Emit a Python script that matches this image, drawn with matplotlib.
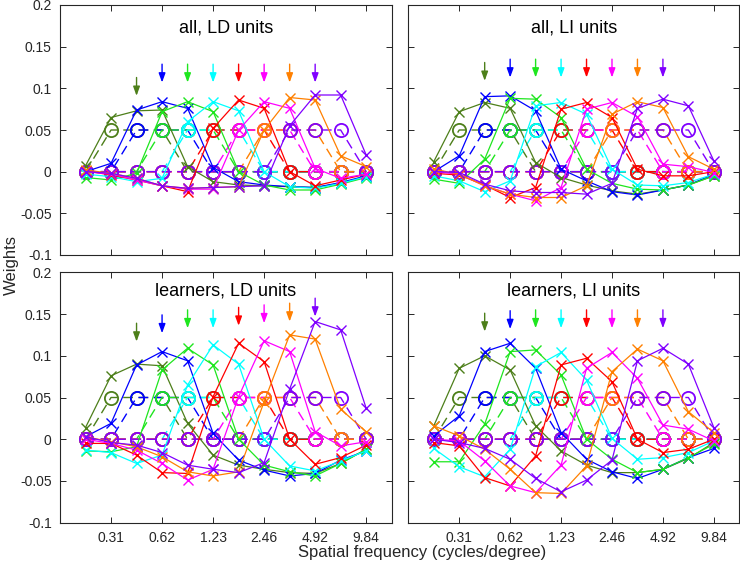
import matplotlib
matplotlib.use("Agg")
import matplotlib.pyplot as plt
import numpy as np

plt.rcParams['font.family'] = ['Liberation Sans', 'DejaVu Sans']

# ---------------- data ----------------
x_idx = list(range(12))
tick_pos = [1, 3, 5, 7, 9, 11]
tick_labels = ['0.31', '0.62', '1.23', '2.46', '4.92', '9.84']
ytick_vals = [-0.1, -0.05, 0, 0.05, 0.1, 0.15, 0.2]
ytick_labels = ['-0.1', '-0.05', '0', '0.05', '0.1', '0.15', '0.2']

unit_colors = ['#4d7f1a', '#0000ff', '#1ee61e', '#00ffff', '#ff0000', '#ff00ff', '#ff8000', '#8000ff']
arrow_pos = [2, 3, 4, 5, 6, 7, 8, 9]

# target profiles (dashed, circles)
target_0 = [0, 0.05, 0.05, 0.05, 0, 0, 0, 0, 0, 0, 0, 0]
target_1 = [0, 0, 0.05, 0.05, 0.05, 0, 0, 0, 0, 0, 0, 0]
target_2 = [0, 0, 0, 0.05, 0.05, 0.05, 0, 0, 0, 0, 0, 0]
target_3 = [0, 0, 0, 0, 0.05, 0.05, 0.05, 0, 0, 0, 0, 0]
target_4 = [0, 0, 0, 0, 0, 0.05, 0.05, 0.05, 0, 0, 0, 0]
target_5 = [0, 0, 0, 0, 0, 0, 0.05, 0.05, 0.05, 0, 0, 0]
target_6 = [0, 0, 0, 0, 0, 0, 0, 0.05, 0.05, 0.05, 0, 0]
target_7 = [0, 0, 0, 0, 0, 0, 0, 0, 0.05, 0.05, 0.05, 0]
targets = [target_0, target_1, target_2, target_3, target_4, target_5, target_6, target_7]

# panel: all, LD units
all_ld = [
    [0.007, 0.065, 0.073, 0.074, 0.006, -0.012, -0.016, -0.017, -0.018, -0.019, -0.014, -0.006],
    [0.0, 0.010, 0.074, 0.084, 0.076, 0.005, -0.012, -0.016, -0.018, -0.019, -0.013, -0.005],
    [-0.007, -0.010, -0.002, 0.072, 0.084, 0.072, 0.0, -0.016, -0.022, -0.022, -0.015, -0.007],
    [-0.003, -0.006, -0.012, -0.008, 0.060, 0.084, 0.073, 0.0, -0.018, -0.020, -0.014, -0.006],
    [0.001, -0.004, -0.010, -0.017, -0.024, 0.052, 0.086, 0.076, 0.0, -0.017, -0.010, -0.003],
    [0.0, -0.003, -0.010, -0.017, -0.021, -0.021, 0.050, 0.084, 0.076, 0.004, -0.008, -0.003],
    [0.002, -0.002, -0.008, -0.017, -0.020, -0.019, -0.018, 0.050, 0.089, 0.086, 0.019, 0.006],
    [0.0, -0.002, -0.008, -0.017, -0.020, -0.019, -0.018, -0.017, 0.055, 0.092, 0.092, 0.020],
]
# panel: all, LI units
all_li = [
    [0.012, 0.072, 0.083, 0.076, 0.011, -0.007, -0.016, -0.023, -0.027, -0.022, -0.016, -0.005],
    [0.0, 0.019, 0.090, 0.091, 0.073, 0.003, -0.011, -0.024, -0.028, -0.022, -0.016, -0.003],
    [-0.009, -0.014, 0.015, 0.088, 0.087, 0.065, 0.003, -0.014, -0.021, -0.022, -0.016, -0.005],
    [-0.005, -0.011, -0.024, -0.011, 0.079, 0.083, 0.069, 0.003, -0.016, -0.017, -0.013, -0.003],
    [-0.002, -0.004, -0.016, -0.031, -0.019, 0.075, 0.083, 0.065, 0.003, -0.005, -0.005, 0.0],
    [0.0, -0.003, -0.017, -0.027, -0.035, -0.019, 0.075, 0.083, 0.066, 0.009, 0.006, -0.001],
    [0.003, -0.003, -0.017, -0.027, -0.031, -0.031, -0.017, 0.069, 0.084, 0.077, 0.018, 0.003],
    [0.0, -0.001, -0.015, -0.023, -0.025, -0.025, -0.027, -0.014, 0.076, 0.087, 0.079, 0.013],
]
# panel: learners, LD units
learn_ld = [
    [0.014, 0.076, 0.090, 0.088, 0.019, -0.019, -0.031, -0.036, -0.040, -0.041, -0.029, -0.012],
    [0.003, 0.019, 0.089, 0.105, 0.094, 0.007, -0.025, -0.037, -0.044, -0.041, -0.025, -0.014],
    [-0.014, -0.015, -0.009, 0.083, 0.109, 0.089, 0.0, -0.031, -0.039, -0.044, -0.029, -0.012],
    [-0.013, -0.016, -0.029, -0.019, 0.065, 0.113, 0.090, 0.0, -0.032, -0.038, -0.026, -0.014],
    [-0.005, -0.005, -0.019, -0.040, -0.041, 0.051, 0.115, 0.093, 0.0, -0.030, -0.022, -0.007],
    [0.0, -0.005, -0.013, -0.029, -0.049, -0.036, 0.051, 0.118, 0.105, 0.009, -0.008, -0.003],
    [0.003, -0.003, -0.009, -0.021, -0.039, -0.044, -0.039, 0.045, 0.125, 0.120, 0.036, 0.009],
    [0.003, -0.004, -0.007, -0.016, -0.031, -0.036, -0.040, -0.028, 0.060, 0.141, 0.131, 0.037],
]
# panel: learners, LI units
learn_li = [
    [0.016, 0.085, 0.100, 0.083, 0.016, -0.014, -0.031, -0.040, -0.040, -0.036, -0.023, -0.004],
    [0.004, 0.028, 0.105, 0.115, 0.085, 0.008, -0.024, -0.039, -0.047, -0.036, -0.022, -0.011],
    [-0.027, -0.027, 0.018, 0.105, 0.107, 0.077, 0.0, -0.024, -0.040, -0.036, -0.022, -0.006],
    [-0.011, -0.033, -0.045, -0.012, 0.087, 0.104, 0.071, 0.001, -0.024, -0.022, -0.016, -0.002],
    [-0.004, -0.008, -0.046, -0.056, -0.020, 0.089, 0.097, 0.069, 0.0, -0.016, -0.012, 0.0],
    [0.0, -0.002, -0.026, -0.056, -0.064, -0.031, 0.085, 0.104, 0.073, 0.017, 0.012, -0.002],
    [0.016, 0.004, -0.012, -0.036, -0.064, -0.065, -0.032, 0.081, 0.108, 0.094, 0.033, 0.008],
    [0.0, -0.004, -0.011, -0.024, -0.047, -0.063, -0.049, -0.025, 0.094, 0.109, 0.090, 0.014],
]

arrow_tip_all_ld = [0.091, 0.107, 0.107, 0.107, 0.107, 0.107, 0.107, 0.107]
arrow_tip_all_li = [0.109, 0.113, 0.113, 0.113, 0.113, 0.113, 0.113, 0.113]
arrow_tip_learn_ld = [0.117, 0.127, 0.133, 0.133, 0.136, 0.139, 0.141, 0.147]
arrow_tip_learn_li = [0.129, 0.132, 0.133, 0.133, 0.133, 0.133, 0.133, 0.133]

titles = ['all, LD units', 'all, LI units', 'learners, LD units', 'learners, LI units']

# ---------------- figure ----------------
fig = plt.figure(figsize=(7.4, 5.72), dpi=100)
W, H = 740.0, 572.0
def rect(x0, y0, x1, y1):
    return [x0 / W, 1 - y1 / H, (x1 - x0) / W, (y1 - y0) / H]

axes_rects = [rect(60, 5, 391.7, 255), rect(408.3, 5, 739.3, 255),
              rect(60, 272.3, 391.7, 522.7), rect(408.3, 272.3, 739.3, 522.7)]
panels = [all_ld, all_li, learn_ld, learn_li]
tips = [arrow_tip_all_ld, arrow_tip_all_li, arrow_tip_learn_ld, arrow_tip_learn_li]
title_y = [0.908, 0.908, 0.927, 0.927]
axcol = '#262626'

for p in range(4):
    ax = fig.add_axes(axes_rects[p])
    data = panels[p]
    for k in range(8):
        c = unit_colors[k]
        ax.plot(x_idx, targets[k], color=c, lw=1.0, dashes=(7, 4), marker='o',
                ms=9.5, mfc='none', mec=c, mew=1.3, zorder=2)
        ax.plot(x_idx, data[k], color=c, lw=0.9, marker='x', ms=6.5, mew=1.0, zorder=3)
        ax.annotate('', xy=(arrow_pos[k], tips[p][k]), xytext=(arrow_pos[k], tips[p][k] + 0.022),
                    arrowprops=dict(arrowstyle='-|>,head_length=0.55,head_width=0.2',
                                    color=c, lw=1.0, shrinkA=0, shrinkB=0), zorder=4)
    ax.set_xlim(-1, 12)
    ax.set_ylim(-0.1, 0.2)
    ax.set_xticks(tick_pos)
    ax.set_yticks(ytick_vals)
    if p >= 2:
        ax.set_xticklabels(tick_labels)
    else:
        ax.set_xticklabels([])
    if p % 2 == 0:
        ax.set_yticklabels(ytick_labels)
    else:
        ax.set_yticklabels([])
    ax.tick_params(direction='in', length=4, width=0.7, top=True, right=True,
                   labelsize=10, colors=axcol, pad=6)
    for s in ax.spines.values():
        s.set_color(axcol)
        s.set_linewidth(0.8)
    ax.text(0.5, title_y[p], titles[p], transform=ax.transAxes, ha='center', va='center',
            fontsize=13, color='black')

fig.text(0.57, 1 - 553 / H, 'Spatial frequency (cycles/degree)', ha='center', va='center',
         fontsize=12, color=axcol)
fig.text(0.016, 1 - 265 / H, 'Weights', ha='center', va='center', rotation=90,
         fontsize=12, color=axcol)

fig.savefig('out.png', dpi=100)
